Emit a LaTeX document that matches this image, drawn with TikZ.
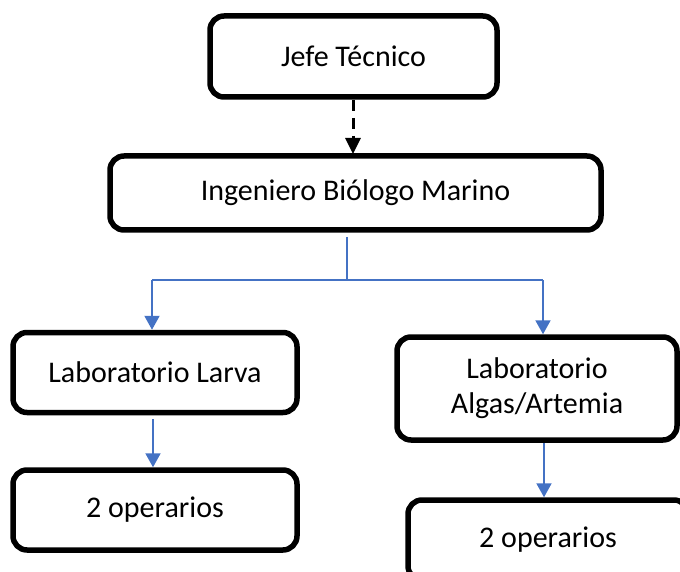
\documentclass[tikz,border=0pt]{standalone}
\usepackage{fontspec}
\setmainfont{Carlito}
\usetikzlibrary{arrows.meta}
\definecolor{offblue}{RGB}{68,114,196}
\tikzset{
  box/.style={draw=black, line width=5.5pt, rounded corners=14pt, fill=white,
    align=center, inner sep=0pt, font=\fontsize{30}{35}\selectfont},
  bluearrow/.style={draw=offblue, line width=2pt, -{Triangle[width=15pt,length=14pt]}},
  blueline/.style={draw=offblue, line width=2pt},
  dasharrow/.style={draw=black, line width=3pt, dash pattern=on 11pt off 7pt,
    -{Triangle[width=15pt,length=16pt]}}
}
\begin{document}
\begin{tikzpicture}[x=1pt,y=-1pt]
\useasboundingbox (0,0) rectangle (680,572);
\clip (0,0) rectangle (680,572);
\node[box, minimum width=287pt, minimum height=81pt] (jefe) at (353.5,56.5) {Jefe Técnico};
\node[box, minimum width=491pt, minimum height=74pt] (ing) at (355.5,193) {Ingeniero Biólogo Marino};
\node[box, minimum width=284pt, minimum height=80pt] (larva) at (155,372.5) {Laboratorio Larva};
\node[box, minimum width=284pt, minimum height=80pt] (opl) at (155,510) {2 operarios};
\node[box, minimum width=280pt, minimum height=103pt] (algas) at (537,388.5) {Laboratorio\\Algas/Artemia};
\node[box, minimum width=280pt, minimum height=80pt] (opr) at (548,540) {2 operarios};
\coordinate (trunk) at (347,237);
\coordinate (junc) at (347,280);
\coordinate (jl) at (152,280);
\coordinate (jr) at (543,280);
\draw[dasharrow] (353,100) -- (353,154);
\draw[blueline] (trunk) -- (junc);
\draw[blueline] (jl) -- (jr);
\draw[bluearrow] (jl) -- (jl |- larva.north);
\draw[bluearrow] (jr) -- (jr |- algas.north);
\draw[bluearrow] (larva.south) ++(-2,4) coordinate (ls) -- (opl.north -| ls);
\draw[bluearrow] (544,443) coordinate (as) -- (as |- opr.north);
\end{tikzpicture}
\end{document}
